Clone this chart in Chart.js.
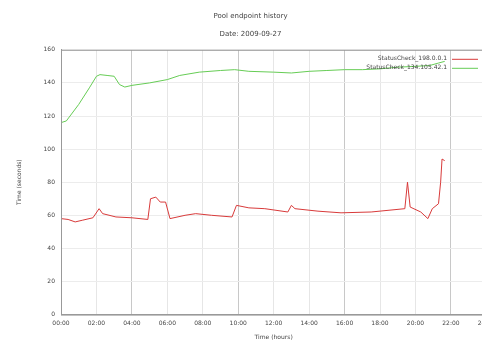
<!DOCTYPE html>
<html>
<head>
<meta charset="utf-8">
<script src="https://cdn.jsdelivr.net/npm/chart.js@4/dist/chart.umd.min.js"></script>
<style>
  html, body { margin: 0; padding: 0; background: #fff; overflow: hidden; }
  #wrap { width: 482px; height: 343px; overflow: hidden; }
  canvas { display: block; }
</style>
</head>
<body>
<div id="wrap"><canvas id="c" width="500" height="343"></canvas></div>
<script>
// Response times of two status checks over one day (hour of day, seconds)
const chartTitle = 'Pool endpoint history';
const chartDate = 'Date: 2009-09-27';
const seriesNames = ['StatusCheck_198.0.0.1', 'StatusCheck_134.105.42.1'];

const redHours  = [0.0, 0.4, 0.8, 1.2, 1.8, 2.15, 2.35, 3.1, 4.0, 4.9, 5.05, 5.35, 5.6, 5.9, 6.15, 7.0, 7.6, 8.5, 9.65, 9.9, 10.6, 11.5, 12.8, 13.0, 13.2, 14.5, 15.8, 17.5, 19.4, 19.55, 19.7, 20.3, 20.7, 20.95, 21.3, 21.42, 21.5, 21.65];
const redValues = [58, 57.5, 56, 57, 58.5, 64, 61, 59, 58.5, 57.5, 70, 71, 68, 68, 58, 60, 61, 60, 59, 66, 64.5, 64, 62, 66, 64, 62.5, 61.5, 62, 64, 80, 65, 62, 58, 64, 67, 80, 94, 93];

const greenHours  = [0.0, 0.3, 1.0, 1.6, 2.0, 2.2, 2.6, 3.0, 3.3, 3.6, 4.0, 5.0, 6.0, 6.7, 7.8, 9.0, 9.8, 10.6, 12.0, 13.0, 14.0, 15.0, 16.0, 17.0, 18.0, 19.0, 20.0, 20.8, 21.3, 21.65];
const greenValues = [116, 117, 127, 137, 144, 145, 144.5, 144, 139, 137.5, 138.5, 140, 142, 144.5, 146.5, 147.5, 148, 147, 146.5, 146, 147, 147.5, 148, 148, 148.5, 149.5, 150, 150.5, 152, 153];

const xTickHours = [0, 2, 4, 6, 8, 10, 12, 14, 16, 18, 20, 22, 24];
const yTicks = [0, 20, 40, 60, 80, 100, 120, 140, 160];

const pts = (xs, ys) => xs.map((x, i) => ({ x: x, y: ys[i] }));
const fmtHour = h => String(h).padStart(2, '0') + ':00';

const FONT = 'DejaVu Sans';
const TEXT = '#444';

// Frame round the plot area and a gnuplot-style key in the top right corner
const framePlugin = {
  id: 'frame',
  afterDatasetsDraw(chart) {
    const { ctx, chartArea: a } = chart;
    ctx.save();
    ctx.strokeStyle = '#999';
    ctx.lineWidth = 1;
    ctx.strokeRect(a.left + 0.5, a.top + 0.5, a.right - a.left, a.bottom - a.top);
    ctx.font = '6px ' + FONT;
    ctx.fillStyle = TEXT;
    ctx.textAlign = 'right';
    ctx.textBaseline = 'middle';
    chart.data.datasets.forEach((ds, i) => {
      const y = a.top + 9 + i * 9;
      ctx.fillText(ds.label, 447, y);
      ctx.strokeStyle = ds.borderColor;
      ctx.beginPath();
      ctx.moveTo(452, y + 0.5);
      ctx.lineTo(478, y + 0.5);
      ctx.stroke();
    });
    ctx.restore();
  }
};

new Chart(document.getElementById('c'), {
  type: 'line',
  data: {
    datasets: [
      { label: seriesNames[0], data: pts(redHours, redValues), borderColor: '#d83a3a', borderWidth: 1, pointRadius: 0, tension: 0 },
      { label: seriesNames[1], data: pts(greenHours, greenValues), borderColor: '#66cc55', borderWidth: 1, pointRadius: 0, tension: 0 }
    ]
  },
  options: {
    responsive: false,
    animation: false,
    layout: { padding: { left: 12, right: 11, top: 0, bottom: 0 } },
    plugins: {
      legend: { display: false },
      tooltip: { enabled: false },
      title: {
        display: true, text: chartTitle, color: TEXT,
        font: { family: FONT, size: 7, weight: 'normal' },
        padding: { top: 12, bottom: 10 }
      },
      subtitle: {
        display: true, text: chartDate, color: TEXT,
        font: { family: FONT, size: 7 },
        padding: { top: 0, bottom: 11 }
      }
    },
    scales: {
      x: {
        type: 'linear', min: 0, max: 24,
        afterBuildTicks: s => { s.ticks = xTickHours.map(v => ({ value: v })); },
        ticks: { callback: v => fmtHour(v), color: TEXT, font: { family: FONT, size: 6 }, maxRotation: 0, autoSkip: false, padding: 5 },
        grid: {
          color: c => ([4, 10, 16, 22].includes(c.tick && c.tick.value) ? '#c8c8c8' : '#e6e6e6'),
          drawTicks: false
        },
        border: { color: '#999' },
        title: { display: true, text: 'Time (hours)', color: TEXT, font: { family: FONT, size: 6 }, padding: { top: 2, bottom: 2 } }
      },
      y: {
        min: 0, max: 160,
        afterBuildTicks: s => { s.ticks = yTicks.map(v => ({ value: v })); },
        afterFit: s => { s.width = 49; },
        ticks: { color: TEXT, font: { family: FONT, size: 6 }, padding: 6 },
        grid: { color: '#ececec', drawTicks: false },
        border: { color: '#999' },
        title: { display: true, text: 'Time (seconds)', color: TEXT, font: { family: FONT, size: 6 }, padding: 4 }
      }
    }
  },
  plugins: [framePlugin]
});
</script>
</body>
</html>
